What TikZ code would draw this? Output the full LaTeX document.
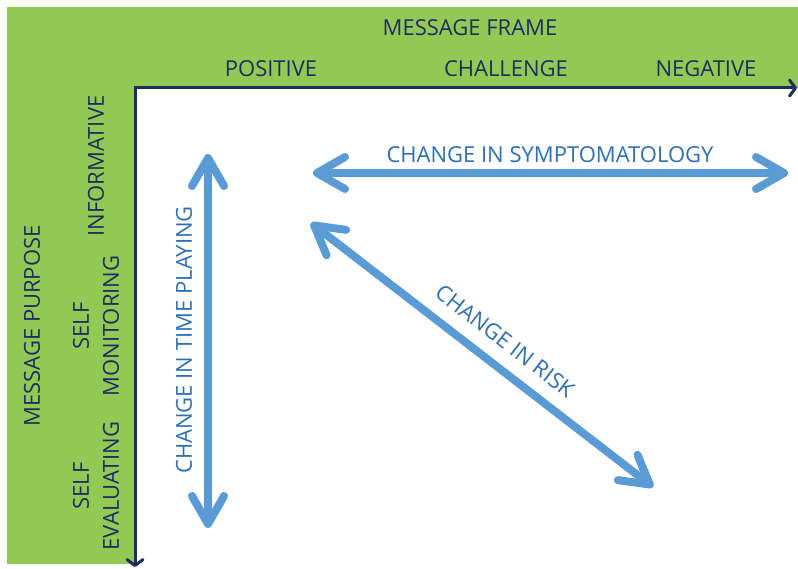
\documentclass[tikz,border=0pt]{standalone}
\usepackage{fontspec}
\setmainfont{Open Sans}
\usetikzlibrary{arrows.meta,positioning}

\definecolor{framegreen}{RGB}{146,201,84}
\definecolor{axisnavy}{RGB}{32,44,94}
\definecolor{arrowblue}{RGB}{91,155,213}
\definecolor{labelblue}{RGB}{46,112,182}

\begin{document}
\begin{tikzpicture}[x=1pt, y=-1pt,
    axislabel/.style={text=axisnavy, font=\fontsize{22}{30}\selectfont, align=center, inner sep=0pt},
    changelabel/.style={text=labelblue, font=\fontsize{22}{30}\selectfont, inner sep=0pt},
    axis/.style={draw=axisnavy, line width=3pt, -{Straight Barb[length=6pt, width=16pt, round]}},
    change/.style={draw=arrowblue, line width=8pt,
        {Straight Barb[length=28pt, width=32pt, round]}-{Straight Barb[length=28pt, width=32pt, round]}}
]
    \useasboundingbox[fill=white] (0,0) rectangle (798,569);

    % green L-shaped band behind the axes
    \fill[framegreen] (7,7) -- (798,7) -- (798,88) -- (135,88) -- (135,564) -- (7,564) -- cycle;

    % axes
    \coordinate (origin) at (135,88);
    \coordinate (xend) at (797,88);
    \coordinate (yend) at (135,567);
    \draw[axis] ([xshift=-1.5pt]origin) -- (xend);
    \draw[axis] ([yshift=-1.5pt]origin) -- (yend);

    % frame (top)
    \node[axislabel] (frame) at (470,28) {MESSAGE FRAME};
    \node[axislabel] (positive) at (271,69) {POSITIVE};
    \node[axislabel] (challenge) at (506,69) {CHALLENGE};
    \node[axislabel] (negative) at (706,69) {NEGATIVE};

    % purpose (left)
    \node[axislabel, rotate=90] (purpose) at (32,326) {MESSAGE PURPOSE};
    \node[axislabel, rotate=90] (informative) at (96,166) {INFORMATIVE};
    \node[axislabel, rotate=90] (monitoring) at (96,326) {SELF\\MONITORING};
    \node[axislabel, rotate=90] (evaluating) at (96,486) {SELF\\EVALUATING};

    % directions of change
    \coordinate (sym-a) at (313,173);
    \coordinate (sym-b) at (788,173);
    \coordinate (time-a) at (208,154);
    \coordinate (time-b) at (208,528);
    \coordinate (risk-a) at (311,223);
    \coordinate (risk-b) at (653,487);

    \draw[change] (sym-a) -- (sym-b);
    \draw[change] (time-a) -- (time-b);
    \draw[change] (risk-a) -- (risk-b);

    \node[changelabel] (symptom) at (550,155) {CHANGE IN SYMPTOMATOLOGY};
    \node[changelabel, rotate=90] (timeplay) at (184,340) {CHANGE IN TIME PLAYING};
    \node[changelabel, rotate=-37.7] (risk) at (505,341) {CHANGE IN RISK};
\end{tikzpicture}
\end{document}
